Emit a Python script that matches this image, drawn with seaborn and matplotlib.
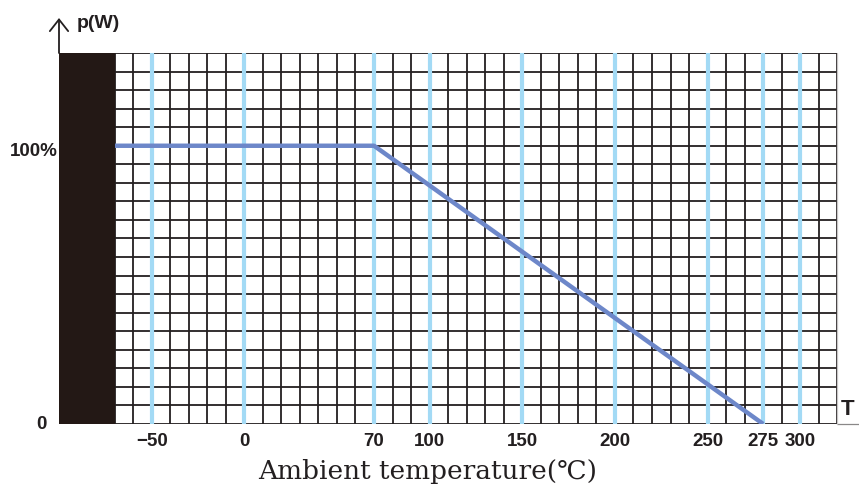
import numpy as np
import pandas as pd
import matplotlib
matplotlib.use('Agg')
import matplotlib.pyplot as plt
import seaborn as sns

# Data
tick_temps = [-50, 0, 70, 100, 150, 200, 250, 275, 300]
curve_temp = [-70, 70, 275]      # line starts at the left edge of the grid
curve_power = [100, 100, 0]      # % of rated power

# Schematic (non-linear) x scale: temperature -> grid cell
tick_cells = [2, 7, 14, 17, 22, 27, 32, 35, 37]
anchor_t = [-100, -70] + tick_temps + [325]
anchor_c = [-3, 0] + tick_cells + [39]

def fwd(t):
    return np.interp(t, anchor_t, anchor_c)

def inv(c):
    return np.interp(c, anchor_c, anchor_t)

n_rows = 20
row_pct = 100 / 15          # 100 % sits 15 cells above the axis

INK = '#231f20'
BLOCK = '#231815'
LIGHT = '#a3daf5'
CURVE = '#6d87c9'

sns.set_theme(style='white')
plt.rcParams['font.family'] = ['Liberation Sans', 'DejaVu Sans']

W, H = 859, 486
fig = plt.figure(figsize=(W / 100, H / 100), dpi=100)
ax = fig.add_axes([59 / W, 62 / H, 778.3 / W, 371 / H])
ax.set_xscale('function', functions=(fwd, inv))
ax.set_xlim(-100, 325)
ax.set_ylim(0, n_rows * row_pct)

# grid
ax.vlines(inv(np.arange(-3, 40)), 0, n_rows * row_pct, color=INK, lw=1.3, zorder=1)
ax.hlines(np.arange(n_rows + 1) * row_pct, -100, 325, color=INK, lw=1.3, zorder=1)
ax.vlines(tick_temps, 0, n_rows * row_pct, color=LIGHT, lw=3.0, zorder=2)
ax.axvspan(-100, -70, color=BLOCK, lw=0, zorder=4)

df = pd.DataFrame({'temp': curve_temp, 'power': curve_power})
sns.lineplot(data=df, x='temp', y='power', color=CURVE, lw=3.2, ax=ax,
             zorder=3, sort=False, solid_capstyle='butt')

for s in ax.spines.values():
    s.set_visible(False)
ax.set_xlabel('')
ax.set_ylabel('')
ax.set_yticks([])
ax.set_xticks(tick_temps, [str(t).replace('-', '\u2212') for t in tick_temps])
ax.xaxis.set_minor_locator(matplotlib.ticker.NullLocator())
ax.tick_params(axis='x', length=0, pad=6.5, labelsize=13.5, labelcolor=INK)
for lab in ax.get_xticklabels():
    lab.set_fontweight('bold')

# y labels
ax.text(-0.001, 98, '100%', transform=ax.get_yaxis_transform(), ha='right',
        va='center', fontsize=13.5, fontweight='bold', color=INK)
ax.text(-0.016, 0, '0', transform=ax.get_yaxis_transform(), ha='right',
        va='center', fontsize=13.5, fontweight='bold', color=INK)

# axis arrow and extension of the x axis
ax.annotate('', xy=(0, 1 + 35 / 371), xytext=(0, 1), xycoords='axes fraction',
            arrowprops=dict(arrowstyle='->, head_length=0.7, head_width=0.55',
                            color=INK, lw=1.3, shrinkA=0, shrinkB=0))
ax.plot([1, 1.03], [0, 0], transform=ax.transAxes, color='#8a8888', lw=0.9,
        clip_on=False)
ax.plot([1, 1], [0, 1], transform=ax.transAxes, color='#c8c6c6', lw=0.9,
        clip_on=False)

fig.text(77 / W, 1 - 28 / H, 'p(W)', ha='left', va='baseline', fontsize=14,
         fontweight='bold', color=INK)
fig.text(841 / W, 1 - 415 / H, 'T', ha='left', va='baseline', fontsize=16,
         fontweight='bold', color=INK)
fig.text(428 / W, 1 - 479 / H, 'Ambient temperature(\u2103)', ha='center',
         va='baseline', fontsize=19, color=INK, family=['DejaVu Serif'])

fig.savefig('out.png', dpi=100)
